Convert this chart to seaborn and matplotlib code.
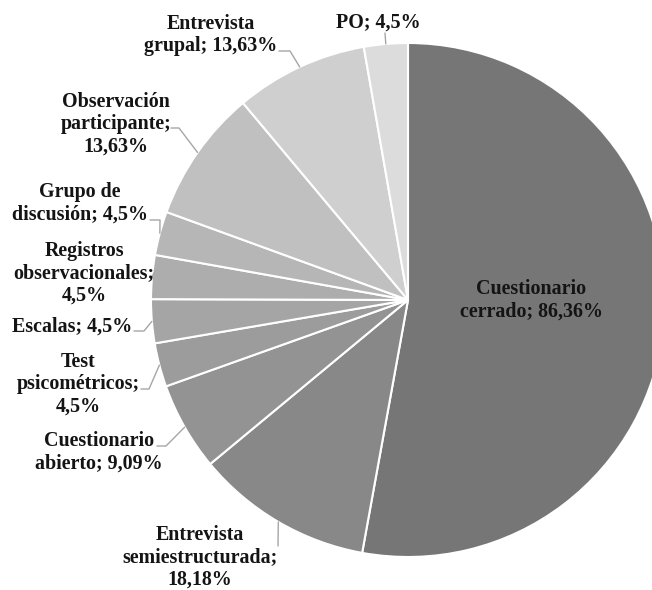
import matplotlib
matplotlib.use("Agg")
import matplotlib.pyplot as plt
import seaborn as sns
import numpy as np

# ---- data ----
categories = [
    "Cuestionario cerrado", "Entrevista semiestructurada", "Cuestionario abierto",
    "Test psicométricos", "Escalas", "Registros observacionales",
    "Grupo de discusión", "Observación participante", "Entrevista grupal", "PO",
]
values = [86.36, 18.18, 9.09, 4.5, 4.5, 4.5, 4.5, 13.63, 13.63, 4.5]
value_labels = ["86,36%", "18,18%", "9,09%", "4,5%", "4,5%", "4,5%", "4,5%",
                "13,63%", "13,63%", "4,5%"]
colors = ["#767676", "#888888", "#939393", "#9c9c9c", "#a5a5a5", "#adadad",
          "#b6b6b6", "#c0c0c0", "#cfcfcf", "#dcdcdc"]

# label text layout (line breaks)
label_lines = [
    ["Cuestionario", "cerrado; {v}"],
    ["Entrevista", "semiestructurada;", "{v}"],
    ["Cuestionario", "abierto; {v}"],
    ["Test", "psicométricos;", "{v}"],
    ["Escalas; {v}"],
    ["Registros", "observacionales;", "{v}"],
    ["Grupo de", "discusión; {v}"],
    ["Observación", "participante;", "{v}"],
    ["Entrevista", "grupal; {v}"],
    ["PO; {v}"],
]

# ---- layout (pixel coords, y from top) ----
W, H = 652, 590
CX, CY, R = 408, 300, 257
text_pos = [(531, 300), (200, 557), (99, 452), (78, 384), (72, 327),
            (84, 273), (80, 203), (116, 124), (211, 35), (378, 23)]
leader_start = [None, [(278, 546)], [(157, 446), (166, 446)], [(141, 389), (149, 389)],
                [(134, 331), (144, 331)], [(154, 273)], [(150, 220), (160, 220)],
                [(171, 128), (179, 128)], [(279, 51), (290, 51)], [(385, 33)]]

sns.set_theme(style="white")
plt.rcParams['font.family'] = ['Liberation Serif', 'DejaVu Serif']

fig = plt.figure(figsize=(W / 100, H / 100), dpi=100)
ax = fig.add_axes([0, 0, 1, 1])

wedges, _ = ax.pie(values, colors=colors, startangle=90, counterclock=False,
                   center=(CX, H - CY), radius=R,
                   wedgeprops=dict(edgecolor="white", linewidth=1.5))
ax.set_xlim(0, W)
ax.set_ylim(0, H)
ax.set_aspect("equal")
ax.axis("off")

for i, w in enumerate(wedges):
    txt = "\n".join(l.format(v=value_labels[i]) for l in label_lines[i])
    x, y = text_pos[i]
    ax.text(x, H - y, txt, ha="center", va="center", fontsize=14.4,
            fontweight="bold", linespacing=1.15, color="#141414", zorder=5)
    if leader_start[i] is not None:
        mid = np.deg2rad((w.theta1 + w.theta2) / 2)
        ex, ey = CX + R * np.cos(mid), (H - CY) + R * np.sin(mid)
        xs = [p[0] for p in leader_start[i]] + [ex]
        ys = [H - p[1] for p in leader_start[i]] + [ey]
        ax.plot(xs, ys, color="#a6a6a6", lw=1, zorder=4)

fig.savefig("out.png", dpi=100, facecolor="white")
